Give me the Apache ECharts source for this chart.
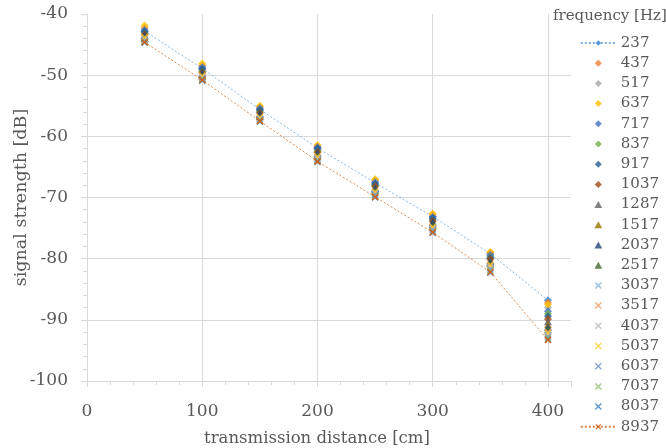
<!DOCTYPE html>
<html><head><meta charset="utf-8">
<script src="https://cdn.jsdelivr.net/npm/echarts@6/dist/echarts.min.js"></script>
<style>html,body{margin:0;padding:0;background:#fff}#c{width:666px;height:448px}</style>
</head><body><div id="c"></div>
<script>
const distances = [50, 100, 150, 200, 250, 300, 350, 400];
const frequencies = ['237','437','517','637','717','837','917','1037','1287','1517','2037','2517','3037','3517','4037','5037','6037','7037','8037','8937'];
const xTicks = [0, 100, 200, 300, 400];
const yTicks = [-100, -90, -80, -70, -60, -50, -40];

const s237  = [-42.8, -48.9, -55.6, -61.9, -67.6, -73.1, -79.2, -86.8];
const s437  = [-42.3, -48.4, -55.2, -61.6, -67.2, -72.8, -79.0, -87.2];
const s517  = [-43.0, -49.2, -55.9, -62.2, -67.9, -73.5, -79.6, -88.0];
const s637  = [-41.9, -48.1, -55.0, -61.4, -67.0, -72.6, -78.9, -87.5];
const s717  = [-42.6, -48.7, -55.4, -61.8, -67.5, -73.2, -79.4, -88.6];
const s837  = [-43.2, -49.4, -56.0, -62.4, -68.0, -73.7, -79.8, -89.0];
const s917  = [-42.9, -49.0, -55.7, -62.0, -67.8, -73.4, -79.9, -89.4];
const s1037 = [-43.4, -49.6, -56.2, -62.6, -68.2, -73.9, -80.1, -89.9];
const s1287 = [-43.6, -49.8, -56.4, -62.8, -68.4, -74.1, -80.3, -90.3];
const s1517 = [-43.9, -50.0, -56.6, -63.0, -68.7, -74.4, -80.6, -90.8];
const s2037 = [-43.5, -49.7, -56.3, -62.7, -68.5, -74.0, -80.5, -91.2];
const s2517 = [-44.0, -50.2, -56.8, -63.2, -68.9, -74.6, -80.8, -91.6];
const s3037 = [-44.3, -50.5, -57.2, -63.7, -69.4, -75.2, -81.5, -92.4];
const s3517 = [-44.1, -50.3, -57.0, -63.5, -69.2, -75.0, -81.2, -92.0];
const s4037 = [-44.2, -50.4, -57.1, -63.6, -69.3, -75.1, -81.4, -92.6];
const s5037 = [-43.8, -50.1, -56.9, -63.3, -69.0, -74.8, -81.0, -92.2];
const s6037 = [-44.4, -50.6, -57.3, -63.9, -69.6, -75.4, -81.8, -92.8];
const s7037 = [-44.5, -50.7, -57.4, -64.0, -69.8, -75.6, -82.0, -93.0];
const s8037 = [-44.7, -50.9, -57.6, -64.2, -70.0, -75.8, -82.3, -93.2];
const s8937 = [-44.6, -50.8, -57.5, -64.1, -69.9, -75.7, -82.2, -93.3];

const allSeries = [s237,s437,s517,s637,s717,s837,s917,s1037,s1287,s1517,s2037,s2517,s3037,s3517,s4037,s5037,s6037,s7037,s8037,s8937];
const colors = ['#5B9BD5','#ED7D31','#A5A5A5','#FFC000','#4472C4','#70AD47','#255E91','#9E480E','#636363','#997300','#264478','#43682B','#7CAFDD','#F1975A','#B7B7B7','#FFCD33','#698ED0','#8CC168','#327DC2','#D26012'];

const DPATH = 'path://M5,0L10,5L5,10L0,5Z';
const TPATH = 'path://M5,0L10,9L0,9Z';
const XPATH = 'path://M0,1.4L1.4,0L5,3.6L8.6,0L10,1.4L6.4,5L10,8.6L8.6,10L5,6.4L1.4,10L0,8.6L3.6,5Z';
const FONT = 'DejaVu Serif';
const TXT = '#595959';
const GRID = '#d9d9d9';

function symbolFor(i){ return i < 8 ? DPATH : (i < 12 ? TPATH : XPATH); }
function sizeFor(i){ return i < 8 ? 8 : (i < 12 ? 8 : 7); }

const series = frequencies.map((f, i) => {
  const data = distances.map((d, k) => [d, allSeries[i][k]]);
  const withLine = (i === 0 || i === frequencies.length - 1);
  const base = {
    name: f,
    data: data,
    symbol: symbolFor(i),
    symbolSize: sizeFor(i),
    symbolKeepAspect: true,
    itemStyle: { color: colors[i] },
    z: 10 + i
  };
  if (withLine) {
    return Object.assign(base, {
      type: 'line',
      showSymbol: true,
      lineStyle: { color: colors[i], width: 0.9, type: [2, 2], opacity: 0.8 }
    });
  }
  return Object.assign(base, { type: 'scatter' });
});

const chart = echarts.init(document.getElementById('c'));
chart.setOption({
  animation: false,
  color: colors,
  graphic: [{
    type: 'text', x: 553, y: 9, silent: true,
    style: { text: 'frequency [Hz]', font: '15px "DejaVu Serif"', fill: TXT }
  }],
  legend: {
    orient: 'vertical', right: 7, top: 35, padding: 0, align: 'left',
    itemWidth: 35, itemHeight: 7, itemGap: 4.2, symbolKeepAspect: true,
    textStyle: { fontFamily: FONT, fontSize: 15, color: TXT, lineHeight: 16 },
    data: frequencies
  },
  grid: { left: 87, top: 14, right: 95, bottom: 67, containLabel: false, outerBoundsMode: 'none' },
  xAxis: [{
    type: 'value', min: 0, max: 420, interval: 20,
    name: 'transmission distance [cm]', nameLocation: 'middle', nameGap: 49,
    nameTextStyle: { fontFamily: FONT, fontSize: 16.5, color: TXT, padding: [0, 24, 0, 0] },
    axisLine: { show: true, lineStyle: { color: GRID, width: 1 } },
    axisTick: { show: true, length: 4, lineStyle: { color: GRID } },
    axisLabel: {
      fontFamily: FONT, fontSize: 17, color: TXT, margin: 22,
      formatter: v => (xTicks.indexOf(v) >= 0 ? String(v) : '')
    },
    splitLine: { show: false }
  }, {
    type: 'value', min: 0, max: 420, interval: 100, position: 'bottom',
    axisLine: { show: false },
    axisTick: { show: true, length: 6, lineStyle: { color: GRID } },
    axisLabel: { show: false },
    splitLine: { show: true, showMinLine: false, showMaxLine: false, lineStyle: { color: GRID, width: 1 } }
  }],
  yAxis: {
    type: 'value', min: -100, max: -40, interval: 10,
    name: 'signal strength [dB]', nameLocation: 'middle', nameGap: 57, nameMoveOverlap: false,
    nameTextStyle: { fontFamily: FONT, fontSize: 17.5, color: TXT },
    axisLine: { show: true, lineStyle: { color: GRID, width: 1 } },
    axisTick: { show: true, length: 6, lineStyle: { color: GRID } },
    minorTick: { show: true, splitNumber: 5, length: 4, lineStyle: { color: GRID } },
    axisLabel: {
      fontFamily: FONT, fontSize: 17, color: TXT, margin: 19,
      formatter: v => (yTicks.indexOf(v) >= 0 ? String(v) : '')
    },
    splitLine: { show: true, showMinLine: false, showMaxLine: false, lineStyle: { color: GRID, width: 1 } }
  },
  series: series
});
</script></body></html>
